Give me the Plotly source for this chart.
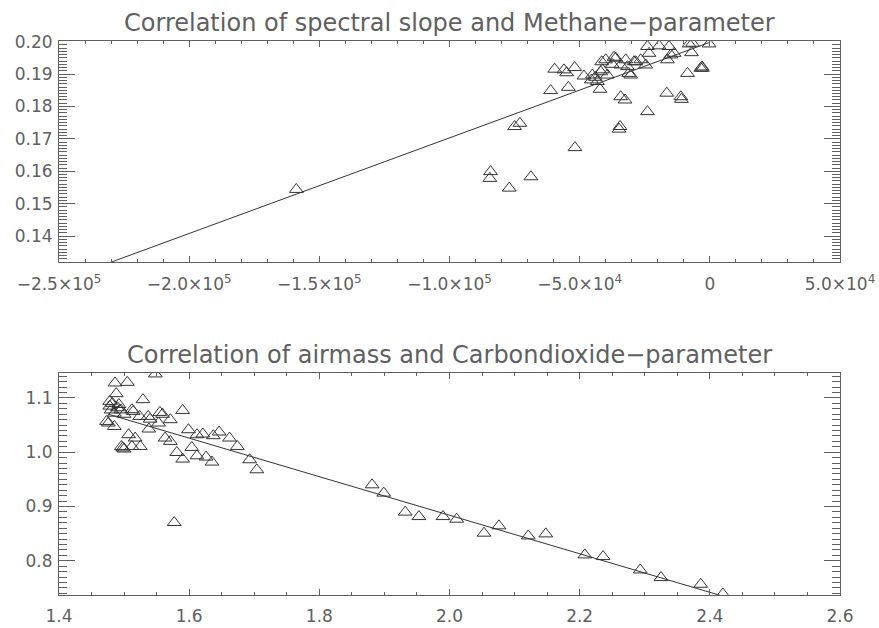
import numpy as np
import plotly.graph_objects as go

# ---- Panel 1: spectral slope vs. methane parameter ----
slope = [-158850, -84230, -84500, -77040, -68730, -51810, -75000, -72960,
         -34880, -34500, -23960, -61150, -54350, -59620, -56040, -55000,
         -51920, -48350, -45120, -45500, -42190, -41540, -41270, -39350,
         -36810, -34230, -31650, -30380, -29120, -26540, -24620, -23960,
         -23350, -19500, -15650, -15000, -16270, -13730, -7960, -7040,
         -270, -8580, -2830, -3000, -16540, -11150, -10900, -34230,
         -32580, -40000, -36150, -32310, -28460, -31150, -41920, -43230,
         -6650, -44000, -37500, -3460]
methane = [0.1544, 0.1599, 0.1578, 0.1548, 0.1583, 0.1673, 0.1738, 0.1748,
           0.1730, 0.1738, 0.1784, 0.1849, 0.1859, 0.1915, 0.1913, 0.1904,
           0.1920, 0.1894, 0.1897, 0.1882, 0.1853, 0.1938, 0.1913, 0.1897,
           0.1952, 0.1928, 0.1923, 0.1897, 0.1938, 0.1944, 0.1928, 0.1985,
           0.1964, 0.1987, 0.1985, 0.1959, 0.1944, 0.1964, 0.1993, 0.1966,
           0.1993, 0.1902, 0.1918, 0.1922, 0.1841, 0.1830, 0.1822, 0.1830,
           0.1820, 0.1944, 0.1949, 0.1944, 0.1938, 0.1902, 0.1907, 0.1877,
           0.1995, 0.1890, 0.1930, 0.1918]
fit1_intercept = 0.1998
fit1_slope = 2.95e-7
fit1_x = [-250000, 0]

# ---- Panel 2: airmass vs. carbon dioxide parameter ----
airmass = [1.486, 1.505, 1.548, 1.529, 1.488, 1.478, 1.473, 1.476, 1.485,
           1.512, 1.514, 1.524, 1.537, 1.540, 1.538, 1.555, 1.559, 1.571,
           1.553, 1.590, 1.507, 1.517, 1.525, 1.512, 1.496, 1.500, 1.498,
           1.563, 1.571, 1.581, 1.590, 1.599, 1.612, 1.621, 1.637, 1.646,
           1.604, 1.612, 1.626, 1.635, 1.662, 1.674, 1.693, 1.704, 1.577,
           1.881, 1.899, 1.932, 1.953, 1.990, 2.011, 2.053, 2.076, 2.121,
           2.148, 2.208, 2.236, 2.293, 2.325, 2.386, 2.420,
           1.478, 1.482, 1.490, 1.495, 1.485, 1.500, 1.492, 1.480]
co2 = [1.1277, 1.1288, 1.1443, 1.0969, 1.1080, 1.0937, 1.0568, 1.0539, 1.0476,
       1.0784, 1.0753, 1.0660, 1.0660, 1.0610, 1.0428, 1.0734, 1.0700, 1.0600,
       1.0539, 1.0771, 1.0323, 1.0262, 1.0107, 1.0107, 1.0107, 1.0060, 1.0080,
       1.0262, 1.0200, 0.9996, 0.9874, 1.0415, 1.0323, 1.0336, 1.0305, 1.0373,
       1.0089, 0.9935, 0.9911, 0.9819, 1.0262, 1.0107, 0.9862, 0.9677, 0.8705,
       0.9400, 0.9247, 0.8897, 0.8815, 0.8815, 0.8767, 0.8509, 0.8644, 0.8459,
       0.8496, 0.8109, 0.8078, 0.7832, 0.7691, 0.7568, 0.7390,
       1.0850, 1.0900, 1.0820, 1.0780, 1.0720, 1.0700, 1.0880, 1.0780]
fit2_intercept = 1.594
fit2_slope = -0.355
fit2_x = [1.475, 2.420]

top_xticks = [-250000, -200000, -150000, -100000, -50000, 0, 50000]
top_xlabels = ["\u22122.5\u00d710<sup>5</sup>", "\u22122.0\u00d710<sup>5</sup>",
               "\u22121.5\u00d710<sup>5</sup>", "\u22121.0\u00d710<sup>5</sup>",
               "\u22125.0\u00d710<sup>4</sup>", "0", "5.0\u00d710<sup>4</sup>"]

titles = ["Correlation of spectral slope and Methane\u2212parameter",
          "Correlation of airmass and Carbondioxide\u2212parameter"]

INK = "#606060"
MARK = "#333333"
FONT = "DejaVu Sans"

# minor tick positions for each axis
minor_x1 = np.arange(-250000, 50001, 10000).tolist()
minor_y1 = np.round(np.arange(0.132, 0.2005, 0.001), 3).tolist()
minor_x2 = np.round(np.arange(1.40, 2.601, 0.05), 2).tolist()
minor_y2 = np.round(np.arange(0.74, 1.1465, 0.01), 2).tolist()

fig = go.Figure()

fig.add_trace(go.Scatter(
    x=slope, y=methane, mode="markers", xaxis="x", yaxis="y",
    marker=dict(symbol="triangle-up-open", size=12, color=MARK,
                line=dict(width=1, color=MARK)),
    showlegend=False))
fig.add_trace(go.Scatter(
    x=fit1_x, y=[fit1_intercept + fit1_slope * v for v in fit1_x],
    mode="lines", xaxis="x", yaxis="y",
    line=dict(color=MARK, width=1), showlegend=False))

fig.add_trace(go.Scatter(
    x=airmass, y=co2, mode="markers", xaxis="x2", yaxis="y2",
    marker=dict(symbol="triangle-up-open", size=12, color=MARK,
                line=dict(width=1, color=MARK)),
    showlegend=False))
fig.add_trace(go.Scatter(
    x=fit2_x, y=[fit2_intercept + fit2_slope * v for v in fit2_x],
    mode="lines", xaxis="x2", yaxis="y2",
    line=dict(color=MARK, width=1), showlegend=False))

tickfont = dict(family=FONT, size=17, color=INK)

common_x = dict(showline=True, linecolor=INK, linewidth=1, mirror="ticks",
                ticks="inside", ticklen=6, tickcolor=INK, tickwidth=1,
                showgrid=False, zeroline=False, tickfont=tickfont,
                automargin=False)
common_y = dict(showline=True, linecolor=INK, linewidth=1, mirror="ticks",
                ticks="inside", ticklen=16, tickcolor=INK, tickwidth=1,
                showgrid=False, zeroline=False, tickfont=tickfont,
                ticklabelstandoff=2, automargin=False)


def minor(vals, length):
    return dict(tickmode="array", tickvals=vals, ticks="inside",
                ticklen=length, tickcolor=INK, tickwidth=1, showgrid=False)


fig.update_layout(
    width=879, height=628,
    margin=dict(l=59, r=39, t=41, b=33),
    plot_bgcolor="white", paper_bgcolor="white",
    xaxis=dict(common_x, anchor="y", domain=[0, 1], ticklabelstandoff=7,
               range=[-250000, 50000], tickmode="array",
               tickvals=top_xticks, ticktext=top_xlabels,
               minor=minor(minor_x1, 3)),
    yaxis=dict(common_y, anchor="x", domain=[0.6011, 1.0],
               range=[0.132, 0.2002], dtick=0.01, tick0=0, tickformat=".2f",
               minor=minor(minor_y1, 8)),
    xaxis2=dict(common_x, anchor="y2", domain=[0, 1], ticklabelstandoff=6,
                range=[1.4, 2.6], dtick=0.2, tick0=0, tickformat=".1f",
                minor=minor(minor_x2, 3)),
    yaxis2=dict(common_y, anchor="x2", domain=[0.0, 0.4007],
                range=[0.737, 1.146], dtick=0.1, tick0=0, tickformat=".1f",
                minor=minor(minor_y2, 8)),
)

# panel titles, placed by pixel row above each plot area
plot_h = 628 - 41 - 33
for text, py in zip(titles, [23, 355]):
    fig.add_annotation(text=text, x=0.5, y=(628 - 33 - py) / plot_h,
                       xref="paper", yref="paper", showarrow=False,
                       font=dict(family=FONT, size=24, color=INK),
                       xanchor="center", yanchor="middle")

fig.write_html("out.html")
